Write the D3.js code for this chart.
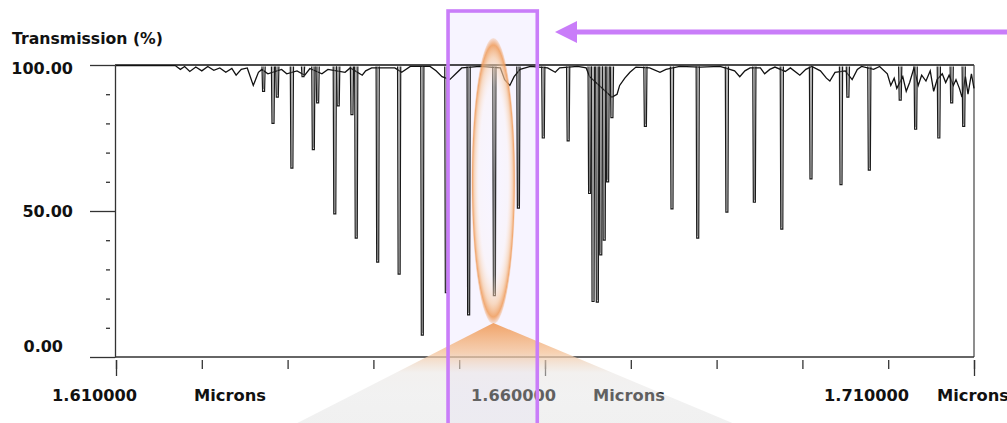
<!DOCTYPE html>
<html>
<head>
<meta charset="utf-8">
<script src="https://d3js.org/d3.v7.min.js"></script>
<style>
  body { margin: 0; background: #fff; }
  svg text { font-family: "DejaVu Sans", sans-serif; font-weight: bold; fill: #111; }
</style>
</head>
<body>
<svg id="chart" width="1007" height="423"></svg>
<script>
// absorption lines: [wavelength (microns), minimum transmission (%)]
const absorptionLines = [
  [1.6272, 91], [1.6283, 80], [1.6288, 89], [1.6305, 64.7], [1.6318, 96],
  [1.6330, 71], [1.6335, 87], [1.6355, 49], [1.6359, 86], [1.6375, 83],
  [1.6380, 40.7], [1.6405, 32.5], [1.6430, 28.4], [1.6457, 7.5], [1.6485, 22],
  [1.6511, 14.4], [1.6541, 21], [1.6569, 51], [1.6598, 75], [1.6627, 74],
  [1.6652, 56], [1.6656, 19], [1.6661, 18.8], [1.6665, 35], [1.6669, 40],
  [1.6673, 60], [1.6678, 82], [1.6717, 79], [1.6748, 50.7], [1.6778, 40.7],
  [1.6812, 49.6], [1.6844, 53], [1.6876, 43.8], [1.6910, 61], [1.6945, 59],
  [1.6953, 89], [1.6978, 64], [1.7014, 88], [1.7032, 78], [1.7059, 75],
  [1.7074, 87], [1.7088, 79]
];

// upper trace between the lines: [wavelength (microns), transmission (%)]
const continuum = [
  [1.6100, 99.8], [1.6169, 99.8], [1.6175, 98.5], [1.6180, 99.5], [1.6186, 97.8],
  [1.6193, 99.3], [1.6200, 98], [1.6207, 99.5], [1.6214, 98.2], [1.6221, 99],
  [1.6228, 97.5], [1.6235, 98.8], [1.6240, 96.5], [1.6246, 98.5], [1.6253, 99],
  [1.6260, 93], [1.6266, 97.5], [1.6270, 98.5], [1.6277, 97], [1.6293, 98.5],
  [1.6299, 97], [1.6311, 98], [1.6320, 96.5], [1.6326, 98.8], [1.6340, 97],
  [1.6347, 98.5], [1.6367, 97.5], [1.6373, 99], [1.6387, 96.5], [1.6391, 98],
  [1.6398, 99], [1.6425, 99], [1.6433, 97.5], [1.6443, 99.5], [1.6466, 99.5],
  [1.6473, 98], [1.6480, 96], [1.6489, 95], [1.6496, 97], [1.6503, 99],
  [1.6524, 99.5], [1.6548, 99], [1.6553, 95], [1.6559, 93], [1.6564, 96],
  [1.6571, 98.5], [1.6583, 99.5], [1.6603, 99], [1.6612, 97.5], [1.6617, 99],
  [1.6638, 99.5], [1.6648, 99], [1.6652, 96], [1.6678, 89], [1.6684, 90],
  [1.6687, 93], [1.6693, 95.5], [1.6699, 97.5], [1.6706, 99.3], [1.6722, 99],
  [1.6734, 97.5], [1.6741, 98.5], [1.6757, 99.5], [1.6781, 99.3], [1.6804, 99.5],
  [1.6821, 98], [1.6827, 96], [1.6833, 98], [1.6839, 99], [1.6851, 99],
  [1.6856, 97], [1.6862, 98.5], [1.6868, 99.3], [1.6880, 97.8], [1.6886, 99],
  [1.6897, 96.5], [1.6904, 98.5], [1.6911, 99.5], [1.6921, 98], [1.6928, 95.5],
  [1.6932, 94.5], [1.6938, 97.5], [1.6950, 98], [1.6958, 95], [1.6964, 98.5],
  [1.6969, 99.5], [1.6983, 98.5], [1.6990, 99.5], [1.6999, 97], [1.7003, 93],
  [1.7007, 95.5], [1.7010, 92], [1.7017, 96], [1.7021, 91], [1.7025, 94],
  [1.7030, 99], [1.7035, 93], [1.7039, 96.5], [1.7044, 94.5], [1.7049, 98],
  [1.7053, 91], [1.7057, 95], [1.7063, 97], [1.7067, 94], [1.7071, 96.5],
  [1.7076, 93], [1.7079, 95], [1.7083, 92], [1.7086, 89], [1.7090, 96],
  [1.7093, 90], [1.7097, 97], [1.7100, 92]
];

const yMajorTicks = [0, 50, 100];
const yMinorTicks = [10, 20, 30, 40, 60, 70, 80, 90];
const yTickLabels = ["0.00", "50.00", "100.00"];
const xTicks = [1.61, 1.62, 1.63, 1.64, 1.65, 1.66, 1.67, 1.68, 1.69, 1.70, 1.71];
const xMajorTicks = [1.61, 1.66, 1.71];
const xTickLabels = ["1.610000", "1.660000", "1.710000"];
const xUnit = "Microns";
const yTitle = "Transmission (%)";
const highlightWl = 1.6541;       // line circled in the picture
const highlightBand = [1.6487, 1.6591];

let svg = d3.select("svg#chart");

let x = d3.scaleLinear().domain([1.61, 1.71]).range([116, 974]);
let y = d3.scaleLinear().domain([0, 100]).range([357, 65]);

let defs = svg.append("defs");

// gradients for the callout
let rg = defs.append("radialGradient").attr("id", "glow");
[[0, "#ffffff", 0], [0.66, "#fff3e8", 0.2], [0.86, "#f7c9a0", 0.65],
 [0.95, "#f0a062", 0.9], [1, "#f0a062", 0.2]].forEach(s => {
  rg.append("stop").attr("offset", s[0]).attr("stop-color", s[1]).attr("stop-opacity", s[2]);
});
let lg = defs.append("linearGradient").attr("id", "cone")
  .attr("gradientUnits", "userSpaceOnUse")
  .attr("x1", 0).attr("x2", 0).attr("y1", 323).attr("y2", 423);
[[0, "#f09a58", 0.9], [0.3, "#f5c7a0", 0.8], [0.5, "#e6e2df", 0.5],
 [0.72, "#dcdcdc", 0.38], [1, "#e2e2e2", 0.5]].forEach(s => {
  lg.append("stop").attr("offset", s[0]).attr("stop-color", s[1]).attr("stop-opacity", s[2]);
});

// highlight band background
let bx0 = x(highlightBand[0]), bx1 = x(highlightBand[1]);
svg.append("rect")
  .attr("x", bx0).attr("y", 11).attr("width", bx1 - bx0).attr("height", 420)
  .attr("fill", "#f7f4ff");

// frame: top and right
svg.append("line").attr("x1", x(1.61) - 1).attr("x2", x(1.71)).attr("y1", y(100)).attr("y2", y(100))
  .attr("stroke", "#111").attr("stroke-width", 1.6);
svg.append("line").attr("x1", x(1.71)).attr("x2", x(1.71)).attr("y1", y(100)).attr("y2", y(0))
  .attr("stroke", "#444").attr("stroke-width", 1.2);

// y axis
let yMajor = d3.axisLeft(y).tickValues(yMajorTicks).tickSize(25).tickSizeOuter(0).tickFormat("");
svg.append("g").attr("transform", "translate(115,0)").call(yMajor);
let yMinor = d3.axisLeft(y).tickValues(yMinorTicks).tickSize(4).tickFormat("");
svg.append("g").attr("transform", "translate(110,0)").call(yMinor)
  .select(".domain").remove();

// x axis line and ticks
svg.append("line").attr("x1", 115).attr("x2", x(1.71)).attr("y1", y(0)).attr("y2", y(0))
  .attr("stroke", "#333").attr("stroke-width", 1.3);
let xMinor = d3.axisBottom(x).tickValues(xTicks).tickSize(9).tickFormat("");
svg.append("g").attr("transform", "translate(0,360)").call(xMinor).select(".domain").remove();
let xMajor = d3.axisBottom(x).tickValues(xMajorTicks).tickSize(16).tickFormat("");
svg.append("g").attr("transform", "translate(0,360)").call(xMajor).select(".domain").remove();

svg.selectAll(".tick line").attr("stroke", "#333").attr("stroke-width", 1.3);
svg.selectAll(".domain").attr("stroke", "#333").attr("stroke-width", 1.3);

// spectrum: continuum trace
let trace = d3.line().x(d => x(d[0])).y(d => y(d[1]));
svg.append("path").datum(continuum).attr("d", trace)
  .attr("fill", "none").attr("stroke", "#111").attr("stroke-width", 1.3);

// spectrum: absorption lines as narrow dips from the top
absorptionLines.forEach(d => {
  let cx = x(d[0]);
  let p = d3.path();
  p.moveTo(cx - 1.6, y(99.5));
  p.lineTo(cx - 1, y(d[1]));
  p.lineTo(cx + 1, y(d[1]));
  p.lineTo(cx + 1.6, y(99.5));
  svg.append("path").attr("d", p.toString())
    .attr("fill", "none").attr("stroke", "#1a1a1a").attr("stroke-width", 1.2);
  svg.append("line").attr("x1", cx).attr("x2", cx)
    .attr("y1", y(99.5)).attr("y2", y(d[1]) - 2)
    .attr("stroke", "#666").attr("stroke-width", 0.9);
});

// y labels
svg.append("text").attr("x", 12).attr("y", 44).attr("font-size", 15.5)
  .attr("textLength", 151).attr("lengthAdjust", "spacingAndGlyphs").text(yTitle);
const yLabelPos = [[63, 352], [73, 217], [73, 74]];
yTickLabels.forEach((t, i) => {
  svg.append("text").attr("x", yLabelPos[i][0]).attr("y", yLabelPos[i][1])
    .attr("text-anchor", "end").attr("font-size", 16).text(t);
});

// x labels
const xLabelStart = [52, 471, 824];
const xUnitStart = [194, 593, 937];
xTickLabels.forEach((t, i) => {
  svg.append("text").attr("x", xLabelStart[i]).attr("y", 401).attr("font-size", 16)
    .attr("textLength", 85).attr("lengthAdjust", "spacingAndGlyphs").text(t);
  svg.append("text").attr("x", xUnitStart[i]).attr("y", 401).attr("font-size", 16)
    .attr("textLength", 72).attr("lengthAdjust", "spacingAndGlyphs").text(xUnit);
});

// callout cone under the circled line
let hx = x(highlightWl) - 1;
svg.append("path")
  .attr("d", `M${hx},323 L${hx - 196},423 L${hx + 239},423 Z`)
  .attr("fill", "url(#cone)");

// glowing ellipse around the line
svg.append("ellipse").attr("cx", hx).attr("cy", 181).attr("rx", 22).attr("ry", 143)
  .attr("fill", "url(#glow)");

// band outline
svg.append("rect")
  .attr("x", bx0).attr("y", 11).attr("width", bx1 - bx0).attr("height", 420)
  .attr("fill", "none").attr("stroke", "#c97df9").attr("stroke-width", 3.6);

// arrow pointing at the band
svg.append("line").attr("x1", 1007).attr("x2", 572).attr("y1", 32).attr("y2", 32)
  .attr("stroke", "#c97df9").attr("stroke-width", 5);
svg.append("path").attr("d", "M555,32 L577,21 L577,43 Z").attr("fill", "#c97df9");
</script>
</body>
</html>
